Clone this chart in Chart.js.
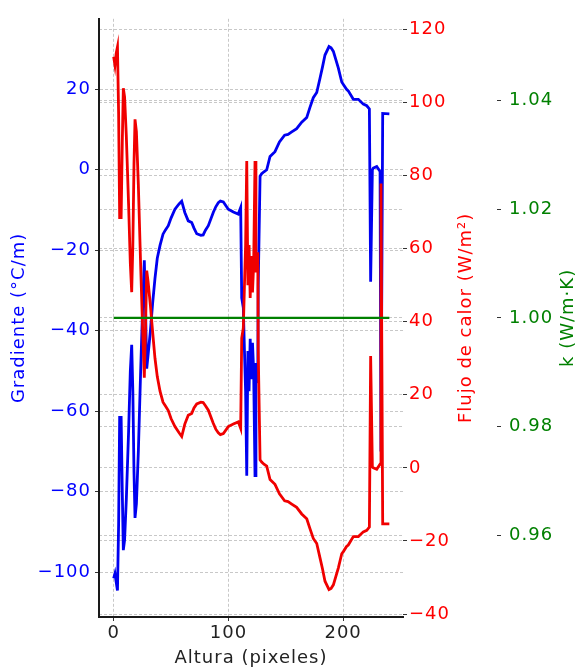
<!DOCTYPE html>
<html>
<head>
<meta charset="utf-8">
<script src="https://cdn.jsdelivr.net/npm/chart.js@4.4.1/dist/chart.umd.min.js"></script>
<style>
  body { margin: 0; background: #fff; }
  #wrap { width: 580px; height: 669px; }
</style>
</head>
<body>
<div id="wrap"><canvas id="perfil"></canvas></div>
<script>
// valores
const altura = [0, 1.1, 2.2, 3.3, 4.3, 5.2, 6.5, 7.5, 8.4, 9.5, 11, 13, 14.5, 15.7, 16.7, 17.7, 18.6, 19.8, 21.5, 23.5,
  25.5, 26.7, 27.8, 28.8, 30, 32, 34, 36, 38, 40.4, 43, 45, 47.6, 50, 53.4, 57, 59.3, 62, 65, 68,
  70, 72.4, 76, 78, 80, 82.5, 86.8, 89, 91.2, 93, 95.6, 99.9, 104.3, 108.6, 110.7, 111.6, 113, 114, 115, 116,
  117, 118, 119, 120, 121, 122, 123.2, 124, 125, 125.6, 126, 127.6, 129, 131, 133.4, 136.3, 140.6, 144.5, 149, 152,
  155.2, 159.5, 163.9, 168.3, 171.1, 174, 177, 179.9, 182, 184.2, 187.7, 189.5, 191.5, 195.8, 198.8, 200.2, 203, 204.5, 208.9, 213.3,
  217.6, 220.6, 222.9, 224, 225.5, 226.3, 229.3, 232.2, 233, 234.5, 240.3];

const gradiente = [-101.5, -100.3, -102.5, -104.5, -88, -61.5, -61.5, -80, -94.5, -92, -82, -65, -50, -43.5, -55, -75, -86.5, -83, -70, -50,
  -32, -22.5, -35, -49.4, -46, -40, -33, -27, -22, -18.8, -16, -15, -13.9, -12, -9.8, -8.5, -7.8, -10.6, -12.7, -13.1,
  -14.5, -15.9, -16.3, -16.2, -15, -13.9, -10.6, -9.2, -8.2, -7.8, -8, -9.8, -10.5, -11, -9.4, -31.8, -34.3, -45, -55, -76,
  -45, -55, -42, -52, -43, -50, -76, -48, -52, -53, -28.6, -1.6, -1, -0.5, 0, 3.3, 4.5, 6.9, 8.6, 8.8,
  9.4, 10.2, 11.8, 13, 15.5, 17.9, 19.2, 22.8, 25.5, 28.5, 30.6, 30.3, 29.4, 25.3, 21.8, 21.2, 20, 19.6, 17.5, 17.5,
  16.3, 15.9, 15.1, -27.8, 0, 0.4, 0.8, -0.4, -70, 14, 13.9];

const flujo = [112.5, 110.2, 113.5, 115.2, 97, 68.5, 68.5, 89, 103.9, 101.5, 91, 72, 56, 48.1, 61, 83, 95.4, 92, 77.5, 55.5,
  35.5, 24.7, 39, 54, 51, 44.5, 37, 30, 25, 21, 18, 17, 15.7, 13.5, 11.3, 9.6, 8.6, 12, 14.4, 14.9,
  16.4, 17.5, 18, 17.9, 17, 15.8, 12.2, 10.6, 9.6, 9.1, 9.4, 11.3, 12, 12.6, 10.8, 35.5, 38.3, 50, 61, 84,
  50, 61, 46.5, 58, 48, 55.5, 84, 53.5, 58, 59, 32, 2.2, 1.6, 1, 0.5, -3.2, -4.5, -7.1, -9, -9.2,
  -9.9, -10.8, -12.6, -13.9, -16.6, -19.3, -20.7, -24.7, -27.6, -31, -33.3, -33, -32, -27.4, -23.5, -22.9, -21.5, -21.1, -18.8, -18.8,
  -17.5, -17.1, -16.2, 30.6, 0.2, 0, -0.4, 1, 77.8, -15.3, -15.3];

const alturaK = [0, 240.3];
const conductividad = [1.0, 1.0];

const xTicks = [0, 100, 200];
const gradTicks = [-100, -80, -60, -40, -20, 0, 20];
const flujoTicks = [-40, -20, 0, 20, 40, 60, 80, 100, 120];
const kTicks = [0.96, 0.98, 1.00, 1.02, 1.04];

Chart.defaults.font.family = 'DejaVu Sans';
Chart.defaults.font.size = 18;

const menos = v => (v < 0 ? '\u2212' + Math.abs(v) : String(v));
const fijar = lista => axis => { axis.ticks = lista.map(v => ({ value: v })); };
const gris = 'rgba(170,170,170,0.65)';

// el texto del original es algo mas ancho
const espaciado = {
  id: 'espaciado',
  beforeDraw(chart) { chart.ctx.letterSpacing = '1px'; }
};

const tituloDerecha = {
  id: 'tituloDerecha',
  afterDraw(chart) {
    const { ctx, chartArea } = chart;
    const yc = (chartArea.top + chartArea.bottom) / 2;
    const items = [
      ['Flujo de calor (W/m²)', 'red', chart.scales.y1.right - 31],
      ['k (W/m·K)', 'green', chart.scales.y2.right - 12]
    ];
    ctx.save();
    ctx.font = '18px "DejaVu Sans"';
    ctx.letterSpacing = '1px';
    ctx.textAlign = 'center';
    ctx.textBaseline = 'middle';
    items.forEach(([t, c, x]) => {
      ctx.save();
      ctx.translate(x, yc);
      ctx.rotate(-Math.PI / 2);
      ctx.fillStyle = c;
      ctx.fillText(t, 0, 0);
      ctx.restore();
    });
    ctx.restore();
  }
};

new Chart(document.getElementById('perfil'), {
  type: 'line',
  data: {
    datasets: [
      {
        label: 'Gradiente',
        data: altura.map((x, i) => ({ x, y: gradiente[i] })),
        borderColor: '#0000f0',
        borderWidth: 2.8,
        pointRadius: 0,
        yAxisID: 'y',
        order: 2
      },
      {
        label: 'Flujo de calor',
        data: altura.map((x, i) => ({ x, y: flujo[i] })),
        borderColor: '#f00000',
        borderWidth: 2.8,
        pointRadius: 0,
        yAxisID: 'y1',
        order: 1
      },
      {
        label: 'k',
        data: alturaK.map((x, i) => ({ x, y: conductividad[i] })),
        borderColor: 'green',
        borderWidth: 2.4,
        pointRadius: 0,
        yAxisID: 'y2',
        order: 0
      }
    ]
  },
  options: {
    responsive: true,
    maintainAspectRatio: false,
    animation: false,
    layout: { padding: { top: 10, left: 0, right: 0, bottom: 0 } },
    plugins: { legend: { display: false }, tooltip: { enabled: false } },
    scales: {
      x: {
        type: 'linear',
        min: -12.8,
        max: 252.2,
        afterBuildTicks: fijar(xTicks),
        afterFit: s => { s.height = 52; },
        ticks: { color: '#222', padding: 2 },
        grid: { color: gris, tickColor: '#333', tickLength: 4 },
        border: { display: true, color: '#1a1a1a', width: 2, dash: [3, 2] },
        title: { display: true, text: 'Altura (pixeles)', color: '#222', padding: { top: 0, bottom: 0 } }
      },
      y: {
        position: 'left',
        min: -111.1,
        max: 37.5,
        afterBuildTicks: fijar(gradTicks),
        afterFit: s => { s.width = 99; },
        ticks: { color: 'blue', padding: 4, callback: menos },
        grid: { color: gris, tickColor: '#333', tickLength: 4 },
        border: { display: true, color: '#1a1a1a', width: 2, dash: [3, 2] },
        title: { display: true, text: 'Gradiente (°C/m)', color: 'blue', padding: { top: 9, bottom: 0 } }
      },
      y1: {
        position: 'right',
        weight: 0,
        min: -40.8,
        max: 122.9,
        afterBuildTicks: fijar(flujoTicks),
        afterFit: s => { s.width = 94; },
        ticks: { color: 'red', padding: 2, callback: menos },
        grid: { color: gris, tickColor: '#333', tickLength: 4 },
        border: { display: false, dash: [3, 2] }
      },
      y2: {
        position: 'right',
        weight: 1,
        min: 0.945,
        max: 1.055,
        afterBuildTicks: fijar(kTicks),
        afterFit: s => { s.width = 83; },
        ticks: { color: 'green', padding: 8, callback: v => v.toFixed(2) },
        grid: { color: gris, tickColor: '#333', tickLength: 4 },
        border: { display: false, dash: [3, 2] }
      }
    }
  },
  plugins: [espaciado, tituloDerecha]
});
</script>
</body>
</html>
